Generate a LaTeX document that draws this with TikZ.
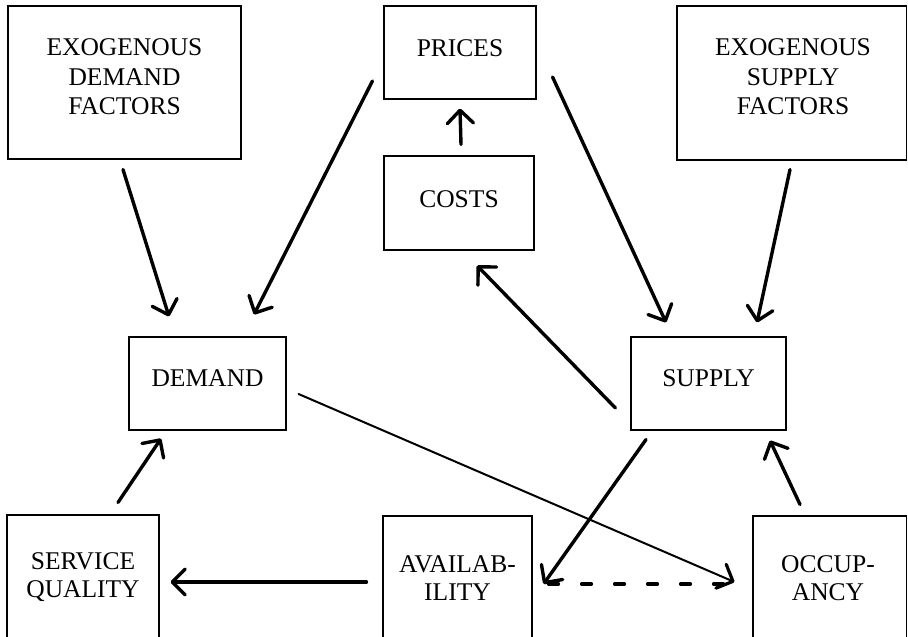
\documentclass[tikz,border=0pt]{standalone}
\usepackage{fontspec}
\setmainfont{Liberation Serif}
\usetikzlibrary{arrows.meta}
\begin{document}
\begin{tikzpicture}[x=1pt,y=-1pt,
  box/.style={draw, line width=1.1pt, inner sep=0pt},
  lbl/.style={align=center, inner sep=0pt, font=\fontsize{25.5}{29.5}\selectfont},
  lblb/.style={align=center, inner sep=0pt, font=\fontsize{25.5}{28}\selectfont},
  arr/.style={line width=3.4pt, line cap=round, line join=round, -{Straight Barb[length=13pt,width=26pt,round]}},
  thinarr/.style={line width=2pt, line cap=round, line join=round, -{Straight Barb[length=13pt,width=26pt,round,line width=3.2pt]}},
  dsh/.style={line width=3.2pt, line cap=round, dash pattern=on 10pt off 23pt}
]
\useasboundingbox (0,0) rectangle (908,637);
\clip (0,0) rectangle (908,637);
% boxes
\node[box, minimum width=233pt, minimum height=153pt] (edf) at (124.5,82.5) {};
\node[box, minimum width=152pt, minimum height=93pt] (pri) at (460,52.5) {};
\node[box, minimum width=229.5pt, minimum height=154pt] (esf) at (791.75,83) {};
\node[box, minimum width=150pt, minimum height=94pt] (cos) at (459,203) {};
\node[box, minimum width=157pt, minimum height=93pt] (dem) at (207.5,383.5) {};
\node[box, minimum width=155pt, minimum height=93pt] (sup) at (708.5,383.5) {};
\node[box, minimum width=152pt, minimum height=145pt] (sq) at (83,587.5) {};
\node[box, minimum width=149pt, minimum height=144pt] (av) at (457.5,588) {};
\node[box, minimum width=153.5pt, minimum height=144pt] (occ) at (829.75,588) {};
% labels
\node[lbl] (edft) at (124.5,77) {EXOGENOUS\\DEMAND\\FACTORS};
\node[lbl] (prit) at (460,48) {PRICES};
\node[lbl] (esft) at (793,77) {EXOGENOUS\\SUPPLY\\FACTORS};
\node[lbl] (cost) at (459,199) {COSTS};
\node[lbl] (demt) at (207.5,378) {DEMAND};
\node[lbl] (supt) at (708.5,378) {SUPPLY};
\node[lblb] (sqt) at (83,577) {SERVICE\\QUALITY};
\node[lblb] (avt) at (457.5,578) {AVAILAB-\\ILITY};
\node[lblb] (occt) at (828,578) {OCCUP-\\ANCY};
% connectors
\draw[arr] ([xshift=-1.5pt,yshift=-10pt]edf.south) -- ([xshift=-38.5pt,yshift=20pt]dem.north);
\draw[arr] ([xshift=-11pt,yshift=-28.5pt]pri.west) -- ([xshift=46.5pt,yshift=22pt]dem.north);
\draw[arr] ([xshift=16pt,yshift=-24.5pt]pri.east) -- ([xshift=-42.5pt,yshift=14pt]sup.north);
\draw[arr] ([xshift=-1.75pt,yshift=-9pt]esf.south) -- ([xshift=48.5pt,yshift=14pt]sup.north);
\draw[arr] ([xshift=2pt,yshift=11pt]cos.north) -- ([yshift=-9pt]pri.south);
\draw[arr] ([xshift=-15pt,yshift=-24.5pt]sup.west) -- ([xshift=18pt,yshift=-15pt]cos.south);
\draw[arr] ([xshift=35pt,yshift=12pt]sq.north) -- ([xshift=-46.5pt,yshift=-8pt]dem.south);
\draw[arr] ([xshift=-16pt,yshift=6pt]av.west) -- ([xshift=11pt,yshift=5.5pt]sq.east);
\draw[thinarr] ([xshift=12pt,yshift=-10.5pt]dem.east) -- ([xshift=-18pt,yshift=6pt]occ.west);
\draw[arr] ([xshift=-62.5pt,yshift=-9pt]sup.south) -- ([xshift=11pt,yshift=4pt]av.east);
\draw[dsh] ([xshift=16pt,yshift=4pt]av.east) -- ([xshift=-23pt,yshift=4pt]occ.west);
\draw[arr] ([xshift=-29.75pt,yshift=11pt]occ.north) -- ([xshift=61.5pt,yshift=-10pt]sup.south);
\end{tikzpicture}
\end{document}
